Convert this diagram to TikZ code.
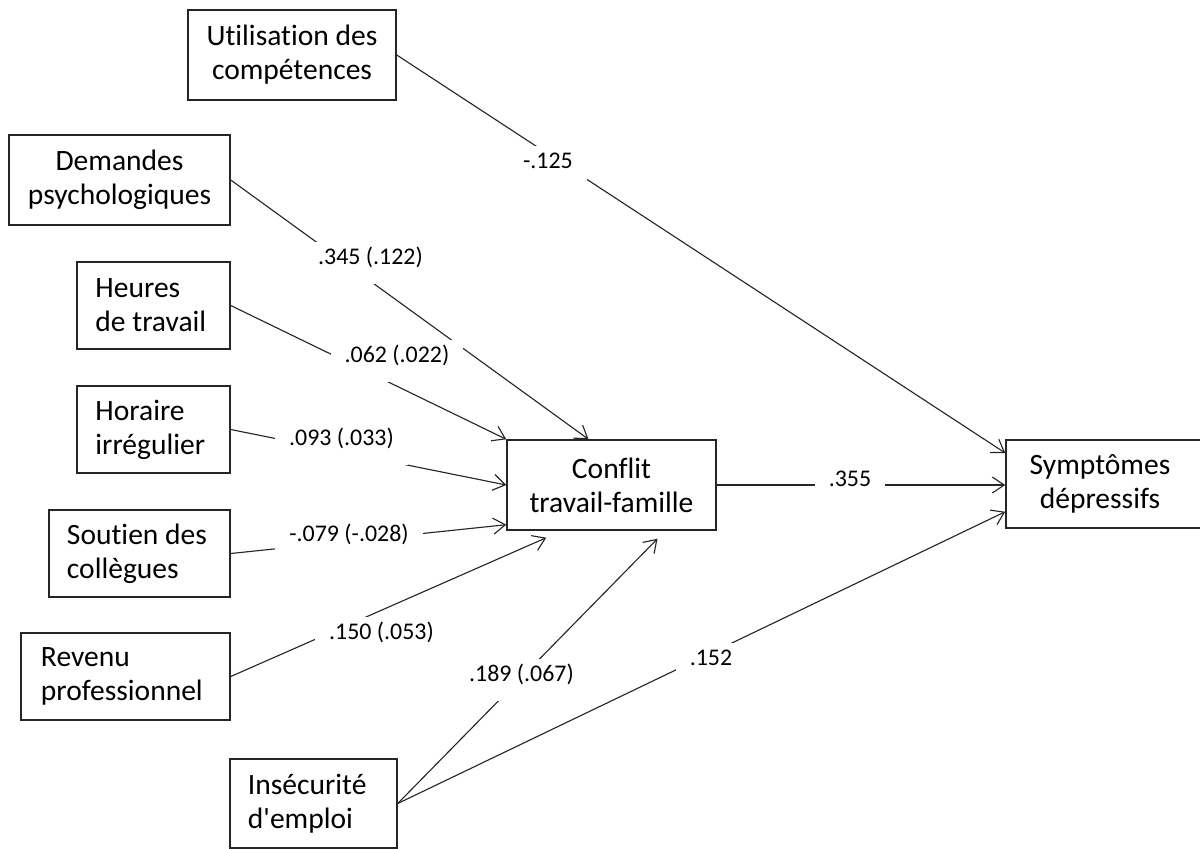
\documentclass[tikz,border=0pt]{standalone}
\usepackage{fontspec}
\setmainfont{Carlito}[Ligatures={NoCommon}]
\usetikzlibrary{arrows.meta,calc}

\begin{document}
\begin{tikzpicture}[x=0.025cm,y=-0.025cm,
  var/.style={draw=black!85,line width=1pt,inner sep=0pt,font=\fontsize{21}{24.2}\selectfont},
  cvar/.style={var,align=flush center},
  lvar/.style={var,align=flush left,text width=#1},
  effect/.style={draw=black!85,line width=0.8pt,-{Straight Barb[length=3mm,width=4mm]}},
  coef/.style={fill=white,anchor=base,inner xsep=0.35cm,inner ysep=0.1cm,text height=0.45cm,text depth=0.4cm,font=\fontsize{17}{20}\selectfont}]
  \useasboundingbox (0,0) rectangle (1200,848);
  \node[cvar,minimum width=5.2cm,minimum height=2.25cm] (util) at (292,55) {Utilisation des\\compétences};
  \node[cvar,minimum width=5.525cm,minimum height=2.25cm] (dem) at (119.5,180) {Demandes\\psychologiques};
  \node[lvar=2.9cm,minimum width=3.825cm,minimum height=2.175cm] (heu) at (153.5,305.5) {Heures\\de travail};
  \node[lvar=2.9cm,minimum width=3.825cm,minimum height=2.175cm] (hor) at (153.5,429.5) {Horaire\\irrégulier};
  \node[lvar=3.625cm,minimum width=4.525cm,minimum height=2.175cm] (sou) at (139.5,553.5) {Soutien des\\collègues};
  \node[lvar=4.225cm,minimum width=5.225cm,minimum height=2.175cm] (rev) at (125.5,676.5) {Revenu\\professionnel};
  \node[lvar=3.275cm,minimum width=4.175cm,minimum height=2.225cm] (ins) at (313.5,803.5) {Insécurité\\d\textquotesingle emploi};
  \node[cvar,minimum width=5.225cm,minimum height=2.25cm] (con) at (611.5,485) {Conflit\\travail-famille};
  \node[lvar=5.3cm,minimum width=5.3cm,minimum height=2.2cm] (sym) at (1112,484) {\centering\rightskip=0.6cm plus 1fil Symptômes\\dépressifs\par};

  \draw[effect] (util.east) -- ($(sym.west)+(0,-31)$);
  \draw[effect] (dem.east) -- ($(con.north)+(-23,0)$);
  \draw[effect] (heu.east) -- (con.north west);
  \draw[effect] (hor.east) -- (con.west);
  \draw[effect] (sou.east) -- ($(con.south west)+(0,-6)$);
  \draw[effect] (rev.east) -- ($(con.south west)+(40,7)$);
  \draw[effect] (ins.east) -- ($(con.south)+(46,8)$);
  \draw[effect] (ins.east) -- ($(sym.south west)+(0,-17)$);
  \draw[effect] (con.east) -- (con.east -| sym.west);

  \node[coef] (c1) at (548,168) {-.125};
  \node[coef] (c2) at (370.5,264) {.345 (.122)};
  \node[coef] (c3) at (397,362) {.062 (.022)};
  \node[coef] (c4) at (341.5,445) {.093 (.033)};
  \node[coef] (c5) at (349,541) {-.079 (-.028)};
  \node[coef] (c6) at (381.5,639) {.150 (.053)};
  \node[coef] (c7) at (521.5,681) {.189 (.067)};
  \node[coef] (c8) at (711,665) {.152};
  \node[coef] (c9) at (850,486) {.355};
\end{tikzpicture}
\end{document}
